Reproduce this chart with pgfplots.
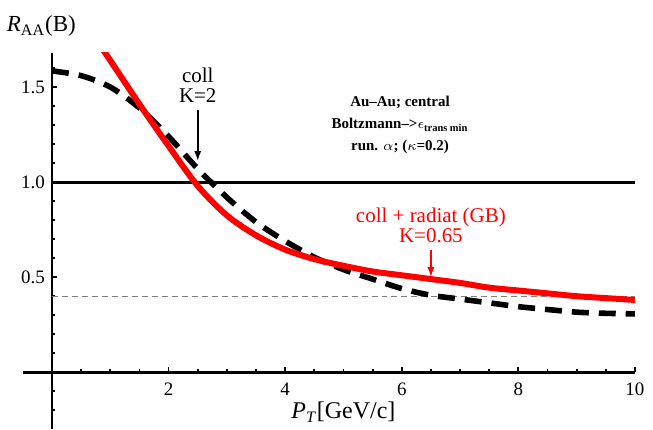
\documentclass[border=0pt]{standalone}
\usepackage{pgfplots}
\pgfplotsset{compat=1.18}
\usetikzlibrary{arrows.meta}
\usepackage{fontspec}
\setmainfont{Liberation Serif}
\begin{document}
\begin{tikzpicture}
\begin{axis}[
  scale only axis,
  width=306.5pt, height=188.5pt,
  xmin=-0.5, xmax=10, ymin=-0.3, ymax=1.68,
  axis lines=middle,
  axis line style={-, line width=1.3pt},
  clip mode=individual,
  xtick={2,4,6,8,10},
  minor xtick={0.5,1,1.5,2.5,3,3.5,4.5,5,5.5,6.5,7,7.5,8.5,9,9.5},
  ytick={0.5,1.0,1.5},
  yticklabels={0.5,1.0,1.5},
  minor ytick={-0.2,-0.1,0.1,0.2,0.3,0.4,0.6,0.7,0.8,0.9,1.1,1.2,1.3,1.4,1.6},
  major tick length=2.5pt, minor tick length=1.5pt,
  every tick/.style={black, line width=0.9pt},
  tick align=inside,
  /pgf/number format/assume math mode=true,
  tick label style={font=\fontsize{9.5}{10}\selectfont},
  xticklabel style={yshift=-2pt},
]
\addplot[gray, line width=0.5pt, dash pattern=on 3pt off 2pt, forget plot] coordinates {(0,0.4) (10,0.4)};
\addplot[black, line width=1.5pt, forget plot] coordinates {(0,1.0) (10,1.0)};
\addplot[black, line width=2.8pt, dash pattern=on 8.5pt off 5pt, smooth] coordinates {
(0,1.585)(0.5,1.56)(1,1.5)(1.5,1.39)(2,1.24)(2.5,1.07)(3,0.92)(3.5,0.79)(4,0.69)(4.5,0.605)(5,0.54)(5.5,0.49)(6,0.44)(6.5,0.405)(7,0.385)(7.5,0.365)(8,0.345)(8.5,0.33)(9,0.316)(9.5,0.31)(10,0.307)};
\addplot[red, line width=3pt, smooth] coordinates {
(0.8,1.73)(1,1.64)(1.5,1.41)(2,1.19)(2.5,0.98)(3,0.825)(3.5,0.72)(4,0.645)(4.5,0.595)(5,0.56)(5.5,0.53)(6,0.51)(6.5,0.49)(7,0.47)(7.5,0.445)(8,0.43)(8.5,0.415)(9,0.40)(9.5,0.39)(10,0.38)};
% annotations
\node[font=\fontsize{10.5}{11}\selectfont, align=center, inner sep=0pt] at (axis cs:2.5,1.51) {coll\\[-1pt]K=2};
\draw[-{Latex[length=5pt,width=3.5pt]}, line width=0.9pt] (axis cs:2.5,1.38) -- (axis cs:2.5,1.11);
\node[font=\fontsize{7.5}{11}\selectfont\bfseries, align=center, inner sep=0pt] at (axis cs:5.97,1.30) {Au--Au; central\\Boltzmann\textendash{}>$\epsilon_{\mathbf{trans\,min}}$\\run. $\alpha$; ($\kappa$=0.2)};
\node[red, font=\fontsize{10.5}{11}\selectfont, align=center, inner sep=0pt] at (axis cs:6.5,0.77) {coll + radiat (GB)\\[-1pt]K=0.65};
\draw[red, -{Latex[length=5pt,width=3.5pt]}, line width=0.9pt] (axis cs:6.5,0.645) -- (axis cs:6.5,0.5);
\node[font=\fontsize{11.5}{12}\selectfont, anchor=west, inner sep=0pt] at (axis cs:-0.78,1.82) {\textit{R}\textsubscript{AA}(B)};
\node[font=\fontsize{12}{12}\selectfont, inner sep=0pt] at (axis cs:5.0,-0.21) {\textit{P}\textsubscript{\textit{T}}[GeV/c]};
\coordinate (BL) at (axis cs:-0.892,-0.3);
\coordinate (TR) at (axis cs:10.31,1.958);
\end{axis}
\pgfresetboundingbox
\useasboundingbox (BL) rectangle (TR);
\end{tikzpicture}
\end{document}
